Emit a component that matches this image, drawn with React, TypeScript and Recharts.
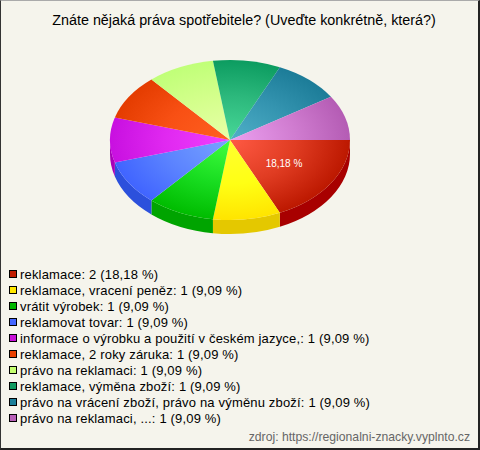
import React from "react";
import { PieChart, Pie } from "recharts";

const categories = [
  "reklamace",
  "reklamace, vracení peněz",
  "vrátit výrobek",
  "reklamovat tovar",
  "informace o výrobku a použití v českém jazyce,",
  "reklamace, 2 roky záruka",
  "právo na reklamaci",
  "reklamace, výměna zboží",
  "právo na vrácení zboží, právo na výměnu zboží",
  "právo na reklamaci, ...",
];
const counts = [2, 1, 1, 1, 1, 1, 1, 1, 1, 1];
const percentLabels = ["18,18", "9,09", "9,09", "9,09", "9,09", "9,09", "9,09", "9,09", "9,09", "9,09"];
const legendColors = ["#c01c00", "#ffe800", "#00b800", "#4466ff", "#c810d8", "#e84000", "#c4ff70", "#109a60", "#1c7f9a", "#b860b8"];
const innerColors = ["#ff5a44", "#ffff30", "#40ff40", "#78a4ff", "#f040ff", "#ff6020", "#e8ffa8", "#48d898", "#50b0c8", "#eca0f0"];
const midColors = ["#e03c22", "#ffff14", "#18dc20", "#5c84ff", "#e028f0", "#f85014", "#d4ff8c", "#2cb87c", "#3494b0", "#d07cd0"];
const outerColors = ["#bc1800", "#ffe400", "#00bc00", "#4064ff", "#c810e0", "#e43c00", "#c0ff78", "#0c9c60", "#1c7c98", "#b45cb4"];
const wallColors = ["#a80000", "#e4c800", "#00a400", "#2c50dc", "#a800b8", "#c83000", "#a0d860", "#088050", "#146880", "#984c98"];

const data = categories.map((name, i) => ({ name, value: counts[i] }));

const W = 480;
const H = 450;
const CX = 230;
const CY = 140;
const RADIUS = 120;
const SQUASH = 80 / 120;
const DEPTH = 14;
const FONT = "'Liberation Sans', Arial, sans-serif";

const pt = (cx: number, cy: number, r: number, deg: number) => ({
  x: cx + r * Math.cos((deg * Math.PI) / 180),
  y: cy + r * SQUASH * Math.sin((deg * Math.PI) / 180),
});

function Slice(props: any) {
  const { cx, cy, outerRadius: r, startAngle, endAngle, index } = props;
  const a0 = -startAngle;
  const a1 = -endAngle;
  const p0 = pt(cx, cy, r, a0);
  const p1 = pt(cx, cy, r, a1);
  const ry = r * SQUASH;
  const large = a1 - a0 > 180 ? 1 : 0;
  const top = `M${cx},${cy}L${p0.x},${p0.y}A${r},${ry} 0 ${large} 1 ${p1.x},${p1.y}Z`;
  const w0 = Math.max(a0, 0);
  const w1 = Math.min(a1, 180);
  let wall = null;
  if (w1 > w0) {
    const q0 = pt(cx, cy, r, w0);
    const q1 = pt(cx, cy, r, w1);
    const d = `M${q0.x},${q0.y}A${r},${ry} 0 0 1 ${q1.x},${q1.y}L${q1.x},${q1.y + DEPTH}A${r},${ry} 0 0 0 ${q0.x},${q0.y + DEPTH}Z`;
    wall = <path d={d} fill={wallColors[index]} />;
  }
  return (
    <g>
      <defs>
        <radialGradient
          id={`slice-${index}`}
          gradientUnits="userSpaceOnUse"
          cx={0}
          cy={0}
          r={r}
          gradientTransform={`translate(${cx} ${cy}) scale(1 ${SQUASH})`}
        >
          <stop offset="0" stopColor={innerColors[index]} />
          <stop offset="0.55" stopColor={midColors[index]} />
          <stop offset="1" stopColor={outerColors[index]} />
        </radialGradient>
      </defs>
      {wall}
      <path d={top} fill={`url(#slice-${index})`} />
    </g>
  );
}

function SliceLabel(props: any) {
  const { cx, cy, midAngle, outerRadius, index } = props;
  if (index !== 0) return null;
  const p = pt(cx, cy, outerRadius * 0.535, -midAngle);
  return (
    <text x={p.x} y={p.y} textAnchor="middle" dominantBaseline="central" fill="#ffffff" fontSize={10} fontFamily={FONT}>
      {percentLabels[index]} %
    </text>
  );
}

function LegendList() {
  return (
    <div style={{ position: "absolute", left: 9, top: 266, width: 470 }}>
      {categories.map((name, i) => (
        <div key={name} style={{ height: 16, display: "flex", alignItems: "center", fontFamily: FONT, fontSize: 13, color: "#000", whiteSpace: "nowrap", letterSpacing: 0.17 }}>
          <span style={{ width: 8, height: 8, boxSizing: "border-box", background: legendColors[i], border: "1px solid #000", marginRight: 3, flex: "none" }} />
          {name}: {counts[i]} ({percentLabels[i]} %)
        </div>
      ))}
    </div>
  );
}

export default function App() {
  React.useEffect(() => {
    document.body.style.margin = "0";
  }, []);
  return (
    <div style={{ position: "relative", width: W, height: H, background: "#f5f4ec", overflow: "hidden" }}>
      <div style={{ position: "absolute", inset: 0, borderLeft: "1px solid #333", borderTop: "1px solid #aaa", borderRight: "2px solid #222", borderBottom: "2px solid #222" }} />
      <div style={{ position: "absolute", left: 4, width: W, top: 12, textAlign: "center", fontFamily: FONT, fontSize: 14.35, color: "#000" }}>
        Znáte nějaká práva spotřebitele? (Uveďte konkrétně, která?)
      </div>
      <PieChart width={W} height={260} margin={{ top: 0, right: 0, bottom: 0, left: 0 }} style={{ position: "absolute", left: 0, top: 0 }}>
        <Pie
          data={data}
          dataKey="value"
          nameKey="name"
          cx={CX}
          cy={CY}
          outerRadius={RADIUS}
          startAngle={0}
          endAngle={-360}
          stroke="none"
          paddingAngle={0}
          shape={Slice}
          label={SliceLabel}
          labelLine={false}
          isAnimationActive={false}
        />
      </PieChart>
      <LegendList />
      <div style={{ position: "absolute", right: 10, top: 430, fontFamily: FONT, fontSize: 12.2, color: "#666" }}>
        zdroj: https://regionalni-znacky.vyplnto.cz
      </div>
    </div>
  );
}
